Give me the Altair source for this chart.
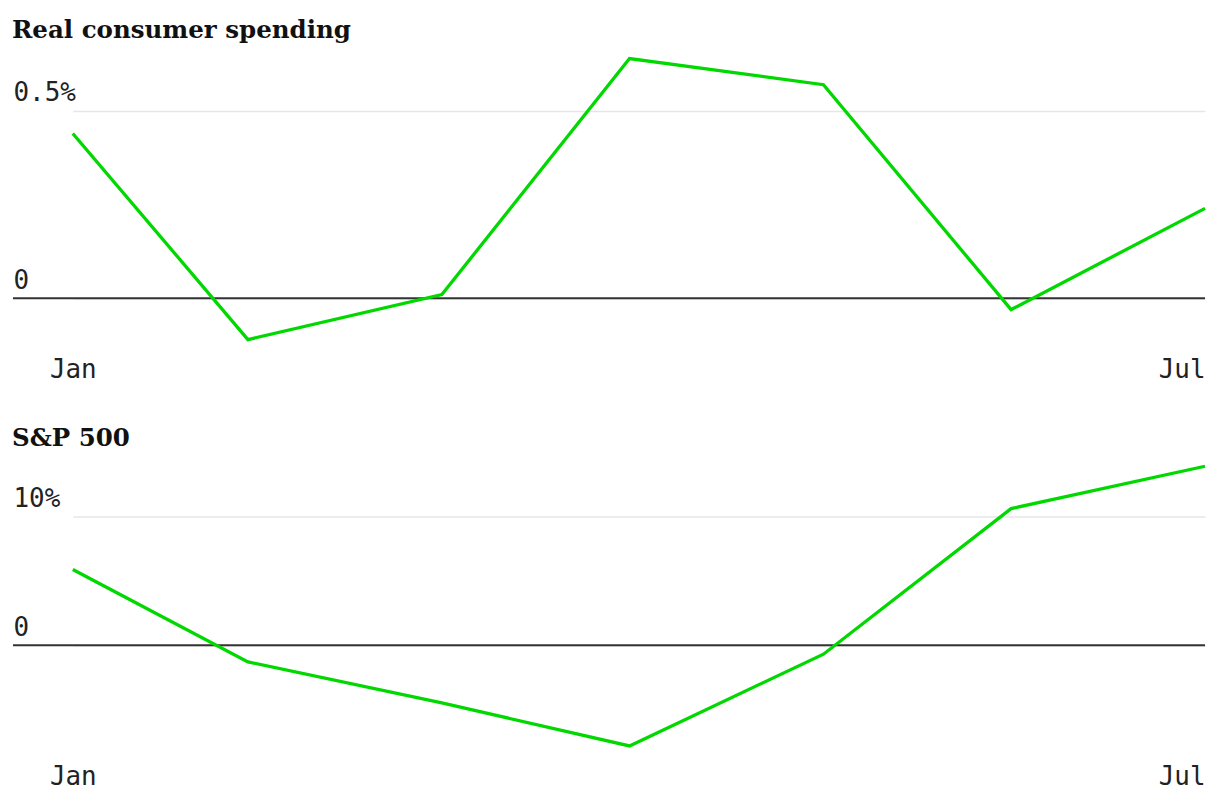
import altair as alt
import pandas as pd

# ---- data ----
months = ["2025-01-31T00:00:00", "2025-02-28T00:00:00", "2025-03-31T00:00:00",
          "2025-04-30T00:00:00", "2025-05-31T00:00:00", "2025-06-30T00:00:00",
          "2025-07-31T00:00:00"]
spending = [0.44, -0.11, 0.01, 0.64, 0.57, -0.03, 0.24]       # % change
sp500 = [5.9, -1.3, -4.5, -7.85, -0.7, 10.65, 13.95]          # % change
spending_ticks = [0, 0.5]
sp500_ticks = [0, 10]
titles = ["Real consumer spending", "S&P 500"]

GREEN = "#00d800"
MONO = "DejaVu Sans Mono"
SERIF = "DejaVu Serif"
W = 1196


def panel(values, title, domain, ticks, fmt, height):
    df = pd.DataFrame({"date": months, "value": values})
    x = alt.X(
        "date:T",
        scale=alt.Scale(range=[60, W]),
        axis=alt.Axis(
            values=[alt.DateTime(year=2025, month=1, date=31),
                    alt.DateTime(year=2025, month=7, date=31)],
            format="%b", title=None, ticks=False, domain=False, grid=False,
            labelFlush=False, labelPadding=11, labelFont=MONO, labelFontSize=26,
            labelColor="#222", labelOverlap=False,
            labelAlign={"condition": {"test": "datum.index == 1", "value": "right"},
                        "value": "center"},
        ),
    )
    y = alt.Y(
        "value:Q",
        scale=alt.Scale(domain=domain, nice=False, zero=False),
        axis=alt.Axis(
            values=ticks, format=fmt, title=None, ticks=False, domain=False,
            grid=True, gridColor="#e6e6e6", gridWidth=1.5,
            labelExpr="datum.value == 0 ? '0' : datum.label + '%'",
            labelAlign="left", labelBaseline="alphabetic", labelPadding=0,
            labelOffset=-10, labelFont=MONO, labelFontSize=26, labelColor="#222",
        ),
    )
    line = alt.Chart(df).mark_line(color=GREEN, strokeWidth=3.3).encode(x=x, y=y)
    zero = alt.Chart(pd.DataFrame({"v": [0]})).mark_rule(
        color="#333", strokeWidth=2).encode(y="v:Q")
    return alt.layer(zero, line).properties(
        width=W, height=height,
        title=alt.TitleParams(title, anchor="start", font=SERIF, fontSize=24.6,
                              fontWeight="bold", color="#111", offset=-11.5,
                              baseline="alphabetic"),
    )


top = panel(spending, titles[0], [-0.125, 0.6596], spending_ticks, ".1f", 295)
bottom = panel(sp500, titles[1], [-8.39, 14.53], sp500_ticks, "d", 295)

chart = alt.vconcat(top, bottom, spacing=43).properties(
    padding={"left": 4, "top": 8, "right": 0, "bottom": 0},
    background="white",
).configure_view(stroke=None, strokeWidth=0)

chart.save("out.html", embed_options={"renderer": "svg", "actions": False})
